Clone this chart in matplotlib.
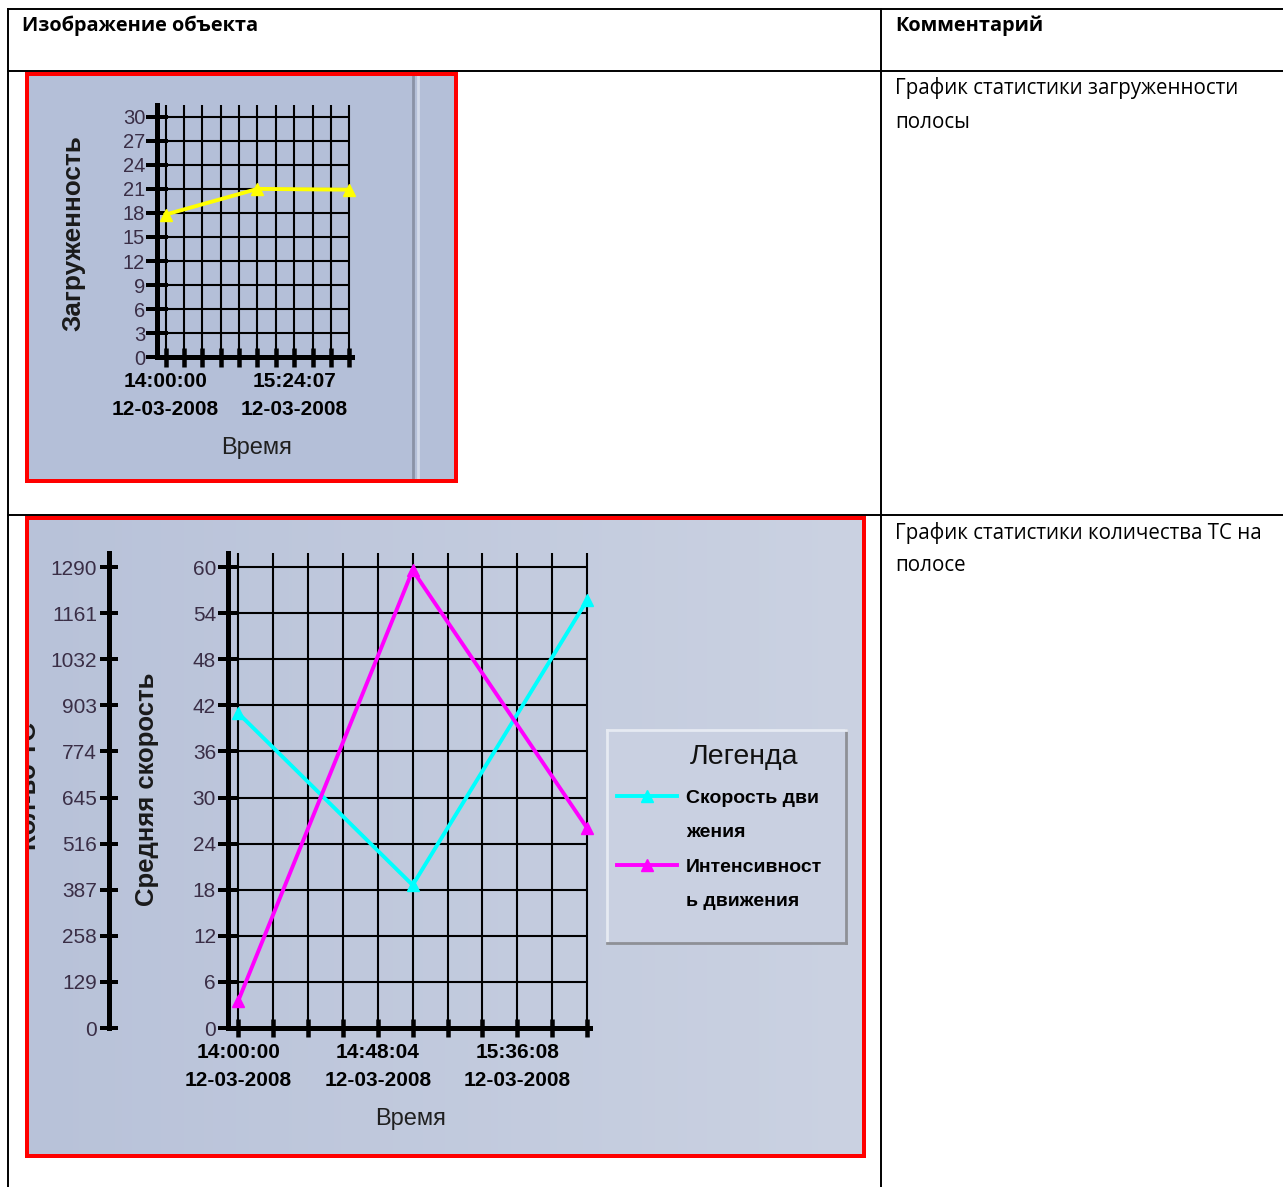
import numpy as np
import matplotlib
matplotlib.use("Agg")
import matplotlib.pyplot as plt
from matplotlib.lines import Line2D
from matplotlib.colors import LinearSegmentedColormap

W, H = 1283, 1187
PT = 0.72  # points per pixel at dpi 100

# --- chart 1: загруженность полосы ---
load_x = [0, 5, 10]
load_y = [17.8, 21.0, 20.9]
load_xticks = list(range(11))
load_yticks = list(range(0, 31, 3))
load_xlabel_pos = [0, 7]
load_xlabel_txt = ["14:00:00\n12-03-2008", "15:24:07\n12-03-2008"]

# --- chart 2: количество ТС на полосе ---
ts_x = [0, 5, 10]
speed = [41.0, 18.6, 55.7]
intensity = [75, 1281, 559]
ts_xticks = list(range(11))
speed_ticks = list(range(0, 61, 6))
count_ticks = list(range(0, 1291, 129))
ts_xlabel_pos = [0, 4, 8]
ts_xlabel_txt = ["14:00:00\n12-03-2008", "14:48:04\n12-03-2008", "15:36:08\n12-03-2008"]

doc_font = "Open Sans"
chart_font = "Liberation Sans"
tick_col = "#3a2e46"


def box(x0, y0, x1, y1):
    return [x0 / W, 1 - y1 / H, (x1 - x0) / W, (y1 - y0) / H]


def fx(px):
    return px / W


def fy(py):
    return 1 - py / H


fig = plt.figure(figsize=(W / 100, H / 100), dpi=100)
fig.patch.set_facecolor("white")

# table lines
def hline(y, x0, x1):
    fig.add_artist(Line2D([fx(x0), fx(x1)], [fy(y), fy(y)], color="black", lw=1.4))


def vline(x, y0, y1):
    fig.add_artist(Line2D([fx(x), fx(x)], [fy(y0), fy(y1)], color="black", lw=1.4))


hline(9, 8, W)
hline(71, 8, W)
hline(515, 8, W)
vline(8, 9, H)
vline(881, 9, H)

fig.text(fx(22), fy(26), "Изображение объекта", family=doc_font, weight="bold",
         fontsize=14.3, ha="left", va="center")
fig.text(fx(895), fy(26), "Комментарий", family=doc_font, weight="bold",
         fontsize=14.3, ha="left", va="center")
fig.text(fx(895), fy(88), "График статистики загруженности", family=doc_font,
         fontsize=14.8, ha="left", va="center")
fig.text(fx(895), fy(122), "полосы", family=doc_font, fontsize=14.8, ha="left", va="center")
fig.text(fx(895), fy(533), "График статистики количества ТС на", family=doc_font,
         fontsize=14.8, ha="left", va="center")
fig.text(fx(895), fy(566), "полосе", family=doc_font, fontsize=14.8, ha="left", va="center")


def panel(x0, y0, x1, y1, color):
    ax = fig.add_axes(box(x0, y0, x1, y1))
    ax.set_xticks([])
    ax.set_yticks([])
    ax.set_xlim(0, 1)
    ax.set_ylim(0, 1)
    ax.set_facecolor(color)
    for s in ax.spines.values():
        s.set_color("#ff0000")
        s.set_linewidth(4 * PT)
        s.set_zorder(10)
    return ax


def style_axes(ax, xlen, ylen, xpad, ypad, ysize):
    for s in ["top", "right"]:
        ax.spines[s].set_visible(False)
    for s in ["left", "bottom"]:
        ax.spines[s].set_linewidth(5 * PT)
        ax.spines[s].set_color("black")
    ax.set_facecolor("none")
    ax.tick_params(axis="x", direction="inout", length=xlen * PT, width=4.5 * PT,
                   pad=xpad, labelsize=15, colors="black")
    ax.tick_params(axis="y", direction="inout", length=ylen * PT, width=4 * PT,
                   pad=ypad, labelsize=ysize, colors="black", labelcolor=tick_col)
    for lbl in ax.get_xticklabels():
        lbl.set_family(chart_font)
        lbl.set_weight("bold")
        lbl.set_linespacing(1.65)
    for lbl in ax.get_yticklabels():
        lbl.set_family(chart_font)


# ---------------- chart 1 ----------------
bg1 = panel(27, 74, 456, 481, "#b4bfd8")
bg1.axvline((413 - 27) / 429, color="#8a92a6", lw=2)
bg1.axvline((418 - 27) / 429, color="#d4dbea", lw=2)

ax1 = fig.add_axes(box(156.5, 105, 352, 357.3))
top1 = (357.3 - 105) / 8.02
ax1.set_xlim(-0.5, (352 - 165.7) / 18.36)
ax1.set_ylim(0, top1)
ax1.vlines(load_xticks, 0, top1, color="black", lw=1.5, zorder=1)
ax1.hlines(load_yticks, -0.5, load_xticks[-1], color="black", lw=1.5, zorder=1)
ax1.plot(load_x, load_y, color="#ffff00", lw=2.8, marker="^", ms=8, zorder=3, clip_on=False)
ax1.set_yticks(load_yticks)
ax1.set_xticks(load_xticks)
ax1.set_xticklabels([load_xlabel_txt[load_xlabel_pos.index(i)] if i in load_xlabel_pos else ""
                     for i in load_xticks])
style_axes(ax1, 19, 22, 3.5, 0.3, 14.5)

fig.text(fx(73), fy(233), "Загруженность", family=chart_font, weight="bold",
         fontsize=18.8, rotation=90, ha="center", va="center", color="#1a1a1a")
fig.text(fx(257), fy(448), "Время", family=chart_font, fontsize=17,
         ha="center", va="center", color="#202020")

# ---------------- chart 2 ----------------
bg2 = panel(27, 518, 864, 1156, "#c0c8dc")
grad = np.linspace(0, 1, 256).reshape(1, -1)
cmap = LinearSegmentedColormap.from_list("bg", ["#b8c2d9", "#cbd2e2"])
bg2.imshow(grad, cmap=cmap, aspect="auto", extent=(0, 1, 0, 1), zorder=0)

ax2 = fig.add_axes(box(228, 553, 590, 1028))
top2 = (1028 - 553) / 7.683
ax2.set_xlim((228 - 238.1) / 34.91, (590 - 238.1) / 34.91)
ax2.set_ylim(0, top2)
ax2.vlines(ts_xticks, 0, top2, color="black", lw=1.5, zorder=1)
ax2.hlines(speed_ticks, ax2.get_xlim()[0], ts_xticks[-1], color="black", lw=1.5, zorder=1)
l_speed, = ax2.plot(ts_x, speed, color="#00ffff", lw=2.8, marker="^", ms=8, zorder=3,
                    clip_on=False, label="Скорость движения")
ax2.set_yticks(speed_ticks)
ax2.set_xticks(ts_xticks)
ax2.set_xticklabels([ts_xlabel_txt[ts_xlabel_pos.index(i)] if i in ts_xlabel_pos else ""
                     for i in ts_xticks])
style_axes(ax2, 18, 20, 4, 1.4, 15)

axc = ax2.twinx()
axc.set_ylim(0, top2 * 1290 / 60)
axc.yaxis.tick_left()
axc.spines["left"].set_position(("outward", (228 - 109) * PT))
for s in ["top", "right", "bottom"]:
    axc.spines[s].set_visible(False)
axc.spines["left"].set_linewidth(5 * PT)
axc.spines["left"].set_color("black")
axc.set_yticks(count_ticks)
axc.tick_params(axis="y", which="both", left=True, right=False, labelleft=True, labelright=False,
                direction="inout", length=18 * PT, width=4 * PT, pad=2.2, labelsize=15,
                labelcolor=tick_col)
for lbl in axc.get_yticklabels():
    lbl.set_family(chart_font)
l_int, = axc.plot(ts_x, intensity, color="#ff00ff", lw=2.8, marker="^", ms=8, zorder=3,
                  clip_on=False, label="Интенсивность движения")

fig.text(fx(147), fy(789), "Средняя скорость", family=chart_font, weight="bold",
         fontsize=18.5, rotation=90, ha="center", va="center", color="#1a1a1a")
bg2.text((29 - 27) / 837, (1156 - 786) / 638, "Кол-во ТС", family=chart_font, weight="bold",
         fontsize=18.5, rotation=90, ha="center", va="center", color="#1a1a1a",
         transform=bg2.transAxes, clip_on=True)
fig.text(fx(411), fy(1119), "Время", family=chart_font, fontsize=17,
         ha="center", va="center", color="#202020")

# legend box
axl = fig.add_axes(box(607, 730, 846, 943))
axl.set_xticks([])
axl.set_yticks([])
axl.set_facecolor("#c9d0e1")
for s in ["top", "left"]:
    axl.spines[s].set_color("#e6eaf2")
for s in ["bottom", "right"]:
    axl.spines[s].set_color("#8e9096")
for s in axl.spines.values():
    s.set_linewidth(2)
axl.text((744 - 607) / 239, (943 - 757) / 213, "Легенда", family=chart_font, fontsize=20.5,
         ha="center", va="center", transform=axl.transAxes, color="#111111")
blank = Line2D([], [], color="none")
axl.legend([l_speed, blank, l_int, blank],
           ["Скорость дви", "жения", "Интенсивност", "ь движения"],
           loc="upper left", bbox_to_anchor=((617 - 607) / 239, (943 - 789) / 213),
           frameon=False, handlelength=3.1, handletextpad=0.45, labelspacing=0.87,
           borderpad=0, borderaxespad=0, numpoints=1,
           prop={"family": chart_font, "weight": "bold", "size": 14})

fig.savefig("out.png", dpi=100)
